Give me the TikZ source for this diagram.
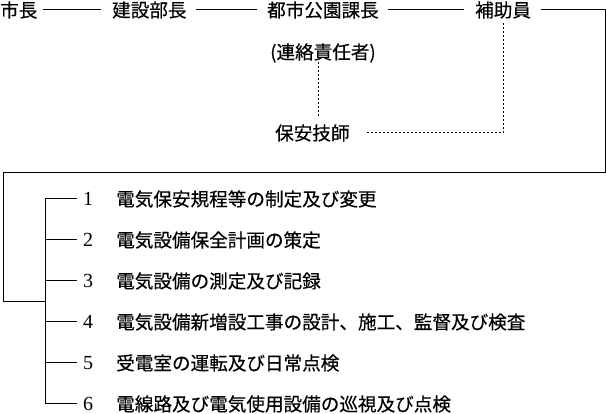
\documentclass[tikz,border=0pt]{standalone}
\usepackage{fontspec}
\newfontfamily\jp[FakeBold=0.4]{Noto Sans CJK JP}
\newfontfamily\dig{Liberation Serif}
\begin{document}
\begin{tikzpicture}[x=1pt,y=-1pt,
  jt/.style={inner sep=0pt,anchor=west,font=\jp\fontsize{18.6}{20}\selectfont},
  num/.style={inner sep=0pt,anchor=center,font=\dig\fontsize{20}{22}\selectfont},
  ln/.style={line width=1pt},
  dl/.style={line width=1pt,dash pattern=on 2.5pt off 1.5pt}]
\useasboundingbox (0,0) rectangle (606,414);
% top row
\node[jt] (shicho) at (0,10) {市長};
\node[jt] (kensetsu) at (112,10) {建設部長};
\node[jt] (toshi) at (267,10) {都市公園課長};
\node[jt] (hojo) at (475,10) {補助員};
\node[jt] (renraku) at (270,53) {(連絡責任者)};
\node[jt] (hoan) at (275,133) {保安技師};
\draw[ln] ([xshift=5pt]shicho.east) -- ([xshift=-11pt]kensetsu.west);
\draw[ln] ([xshift=9pt]kensetsu.east) -- ([xshift=-10pt]toshi.west);
\draw[ln] ([xshift=9pt]toshi.east) -- ([xshift=-11pt]hojo.west);
% box path
\coordinate (tr) at (605,10);
\coordinate (br) at (605,173);
\coordinate (bl) at (3,173);
\coordinate (ll) at (3,302);
\coordinate (jn) at (45,302);
\draw[ln] ([xshift=10pt]hojo.east) -- (tr) -- (br) -- (bl) -- (ll) -- (jn);
% dashed
\coordinate (dv1) at (503,23);
\coordinate (dc) at (503,133);
\draw[dl] (dv1) -- (dc) -- ([xshift=16pt]hoan.east);
\draw[dl] (318,62) -- (318,117);
% list
\coordinate (b1) at (45,199);
\coordinate (b6) at (45,404);
\draw[ln] (b1) -- (b6);
\foreach \i/\y/\t in {1/199/電気保安規程等の制定及び変更,
                      2/240/電気設備保全計画の策定,
                      3/281/電気設備の測定及び記録,
                      4/322/電気設備新増設工事の設計、施工、監督及び検査,
                      5/363/受電室の運転及び日常点検,
                      6/404/電線路及び電気使用設備の巡視及び点検}{
  \node[num] (n\i) at (88,\y) {\i};
  \node[jt] (t\i) at (116,\y) {\t};
  \draw[ln] (45,\y) -- (77,\y);
}
\end{tikzpicture}
\end{document}
